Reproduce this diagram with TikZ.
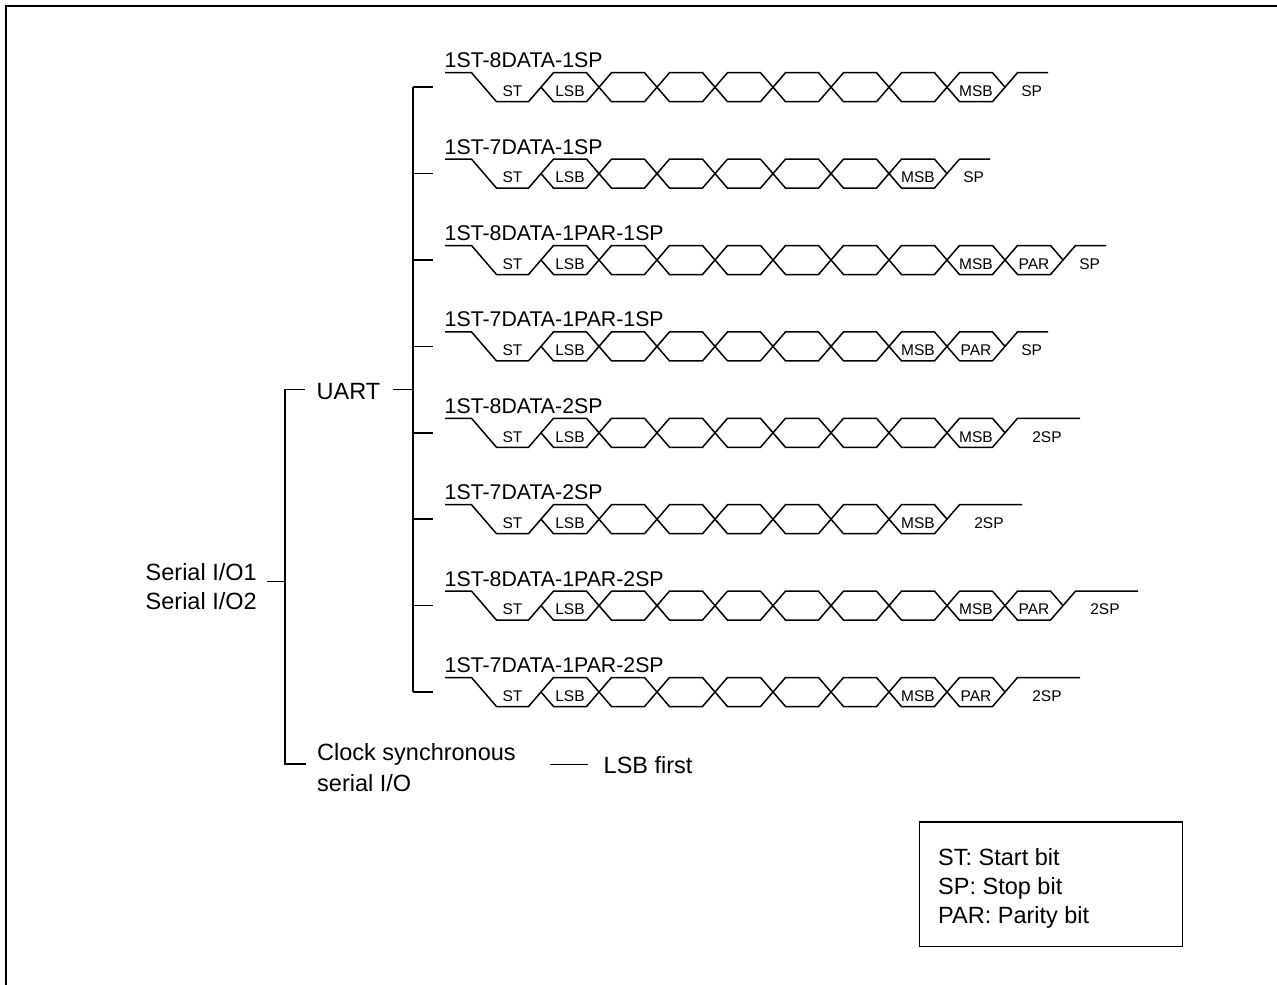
\documentclass[tikz,border=0pt]{standalone}
\usepackage{fontspec}
\setmainfont{Liberation Sans}
\tikzset{
  wave/.style={line width=1.5pt, line join=miter},
  tree/.style={line width=1.5pt},
  small/.style={font=\fontsize{15.5}{18}\selectfont, inner sep=0pt, anchor=base},
  rowtitle/.style={font=\fontsize{21.3}{25}\selectfont, inner sep=0pt, anchor=base west},
  big/.style={font=\fontsize{23.5}{28}\selectfont, inner sep=0pt, anchor=base west},
}
\begin{document}
\begin{tikzpicture}[x=1pt,y=-1pt]
\useasboundingbox (0,0) rectangle (1277,985);
% outer frame (top and left edges)
\draw[line width=2pt] (6,985) -- (6,6) -- (1277,6);

% waveform rows
\foreach \rr/\nd/\pp/\stp in {0/8/0/1,1/7/0/1,2/8/1/1,3/7/1/1,4/8/0/2,5/7/0/2,6/8/1/2,7/7/1/2} {
  \pgfmathsetmacro{\T}{72.7+86.4*\rr}
  \pgfmathsetmacro{\B}{\T+29}
  \pgfmathsetmacro{\M}{\T+14.5}
  \pgfmathtruncatemacro{\nc}{\nd+\pp}
  \pgfmathsetmacro{\E}{541+58*\nc}
  \pgfmathsetmacro{\L}{\stp==1 ? 43 : 75}
  \pgfmathsetmacro{\ML}{541+58*\nd-29}
  \node[rowtitle] (title\rr) at (444.5,\T-5) {1ST-\nd DATA-\ifnum\pp=1 1PAR-\fi\stp SP};
  \coordinate (bus\rr) at (413,\M);
  \coordinate (w\rr) at (433,\M);
  \draw[tree] (bus\rr) -- (w\rr);
  % start and start bit
  \draw[wave] (445,\T) -- (471.5,\T) -- (496.5,\B) -- (528.5,\B) -- (541,\M);
  % data (and parity) cells
  \foreach \k in {1,...,\nc} {
    \pgfmathsetmacro{\a}{541+58*(\k-1)}
    \pgfmathsetmacro{\b}{\a+58}
    \draw[wave] (\a,\M) -- (\a+12.5,\T) -- (\b-12.5,\T) -- (\b,\M) -- (\b-12.5,\B) -- (\a+12.5,\B) -- cycle;
  }
  % stop bit(s)
  \draw[wave] (\E,\M) -- (\E+12.5,\T) -- (\E+\L,\T);
  \node[small] at (512.5,\M+9.3) {ST};
  \node[small] at (570,\M+9.3) {LSB};
  \node[small] at (\ML,\M+9.3) {MSB};
  \ifnum\pp=1 \node[small] at (\E-29,\M+9.3) {PAR};\fi
  \ifnum\stp=1
    \node[small] at (\E+26.7,\M+9.3) {SP};
  \else
    \node[small] at (\E+42,\M+9.3) {2SP};
  \fi
}
% UART bus
\draw[tree] (bus0) -- (bus7);

% tree
\node[big] (ser1) at (145.5,580) {Serial I/O1};
\node[big] (ser2) at (145.5,609.3) {Serial I/O2};
\node[big] (uart) at (316.5,399.3) {UART};
\node[big] (clk1) at (317,760) {Clock synchronous};
\node[big] (clk2) at (317,791) {serial I/O};
\node[big] (lsbf) at (603.5,773.3) {LSB first};

\coordinate (serOut) at (266.7,581.7);
\coordinate (sMid) at (285,581.7);
\coordinate (sTop) at (285,389.3);
\coordinate (sBot) at (285,764);
\coordinate (uIn) at (305,389.3);
\coordinate (uOut) at (393.3,389.3);
\coordinate (uBus) at (413,389.3);
\coordinate (cIn) at (306,764);
\coordinate (lA) at (550,764.3);
\coordinate (lB) at (588.3,764.3);

\draw[tree] (serOut) -- (sMid);
\draw[tree] (uIn) -- (sTop) -- (sBot) -- (cIn);
\draw[tree] (uOut) -- (uBus);
\draw[tree] (lA) -- (lB);

% legend
\node[draw, line width=1.5pt, minimum width=263.4pt, minimum height=124.7pt, inner sep=0pt] (legend) at (1051,884.35) {};
\node[big] (leg1) at (938,865) {ST: Start bit};
\node[big] (leg2) at (938,894) {SP: Stop bit};
\node[big] (leg3) at (938,923.3) {PAR: Parity bit};
\end{tikzpicture}
\end{document}
